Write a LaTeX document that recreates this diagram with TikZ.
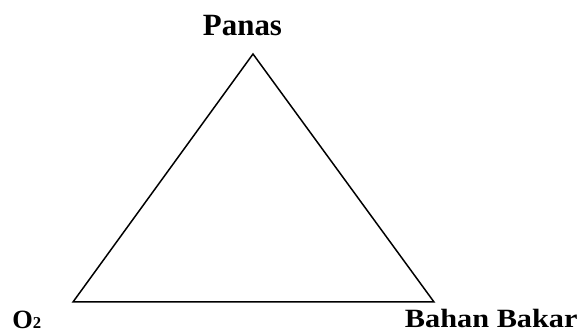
\documentclass[tikz,border=0pt]{standalone}
\usepackage{fontspec}
\setmainfont{Liberation Serif}
\usetikzlibrary{positioning}

\begin{document}
\begin{tikzpicture}
  [x=0.02cm, y=-0.02cm,
   every node/.style={inner sep=0pt, font=\bfseries},
   toplabel/.style={font=\fontsize{17.6pt}{20pt}\selectfont\bfseries},
   baselabel/.style={font=\fontsize{15pt}{18pt}\selectfont\bfseries}]
  \useasboundingbox (0,0) rectangle (579,333);
  % corners of the triangle
  \coordinate (heat) at (253,54);
  \coordinate (oxy)  at (73,302);
  \coordinate (fuel) at (434,302);
  \draw[line width=0.85pt] (heat)--(oxy)--(fuel)--cycle;
  % labels
  \node[toplabel, anchor=base] (panas) at (242.5,36) {Panas};
  \node[baselabel, anchor=base west] (o2) at (12,329)
    {O{\fontsize{9.5pt}{11pt}\selectfont 2}};
  \node[baselabel, anchor=base east, xscale=1.15, transform shape] (bahan) at (578,328) {Bahan Bakar};
\end{tikzpicture}
\end{document}
